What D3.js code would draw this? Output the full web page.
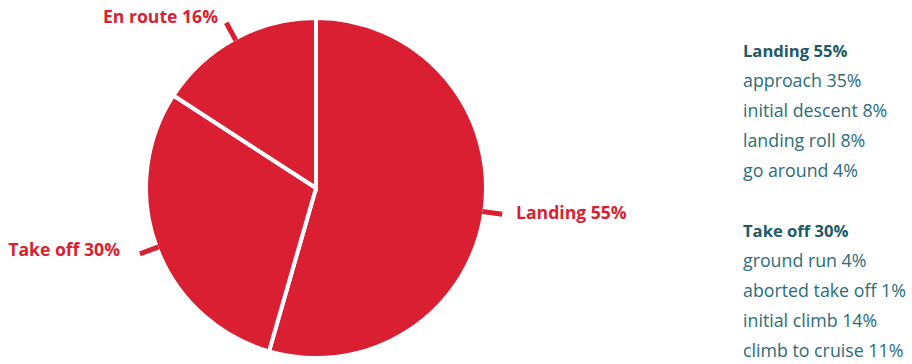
<!DOCTYPE html>
<html>
<head>
<meta charset="utf-8">
<script src="https://cdn.jsdelivr.net/npm/d3@7"></script>
<style>
body{margin:0;background:#fff;}
svg{display:block;}
.lbl{font-family:"Open Sans",sans-serif;font-weight:bold;font-size:17.6px;fill:#d91f32;}
.side{font-family:"Open Sans",sans-serif;font-size:17.8px;fill:#2b6d78;}
.side .head{font-weight:bold;font-size:16.6px;fill:#1b5a66;}
</style>
</head>
<body>
<svg id="chart" width="912" height="364"></svg>
<script>
var svgWidth=912;
var svgHeight=364;
var cx=316;
var cy=188;
var radius=170;

var phases=["Landing","Take off","En route"];
var shares=[55,30,16];

var landingParts=["approach 35%","initial descent 8%","landing roll 8%","go around 4%"];
var takeoffParts=["ground run 4%","aborted take off 1%","initial climb 14%","climb to cruise 11%"];

var svg=d3.select("#chart");

var pie=d3.pie().sort(null).value(function(d){return d;});
var arcs=pie(shares);

var arc=d3.arc().innerRadius(0).outerRadius(radius);

var g=svg.append("g")
    .attr("transform","translate("+cx+","+cy+")");

g.selectAll("path")
    .data(arcs)
    .enter()
    .append("path")
    .attr("d",arc)
    .attr("fill","#db1f33")
    .attr("stroke","#fff")
    .attr("stroke-width",4)
    .attr("stroke-linejoin","miter");

// little ticks outside the pie
function mid(d){return (d.startAngle+d.endAngle)/2;}
g.selectAll("line.tick")
    .data(arcs)
    .enter()
    .append("line")
    .attr("class","tick")
    .attr("x1",function(d){return Math.sin(mid(d))*(radius-2);})
    .attr("y1",function(d){return -Math.cos(mid(d))*(radius-2);})
    .attr("x2",function(d){return Math.sin(mid(d))*(radius+18);})
    .attr("y2",function(d){return -Math.cos(mid(d))*(radius+18);})
    .attr("stroke","#db1f33")
    .attr("stroke-width",5);

// labels
var labelPos=[[516,219,"start"],[120,256,"end"],[218,23,"end"]];
svg.selectAll("text.lbl")
    .data(arcs)
    .enter()
    .append("text")
    .attr("class","lbl")
    .attr("x",function(d,i){return labelPos[i][0];})
    .attr("y",function(d,i){return labelPos[i][1];})
    .attr("text-anchor",function(d,i){return labelPos[i][2];})
    .text(function(d,i){return phases[i]+" "+shares[i]+"%";});

// side breakdown
function block(y0,title,items){
    var t=svg.append("g").attr("class","side");
    t.append("text")
        .attr("class","head")
        .attr("x",743)
        .attr("y",y0)
        .text(title);
    t.selectAll("text.item")
        .data(items)
        .enter()
        .append("text")
        .attr("class","item")
        .attr("x",743)
        .attr("y",function(d,i){return y0+30*(i+1);})
        .text(function(d){return d;});
}
block(57,phases[0]+" "+shares[0]+"%",landingParts);
block(237,phases[1]+" "+shares[1]+"%",takeoffParts);
</script>
</body>
</html>
